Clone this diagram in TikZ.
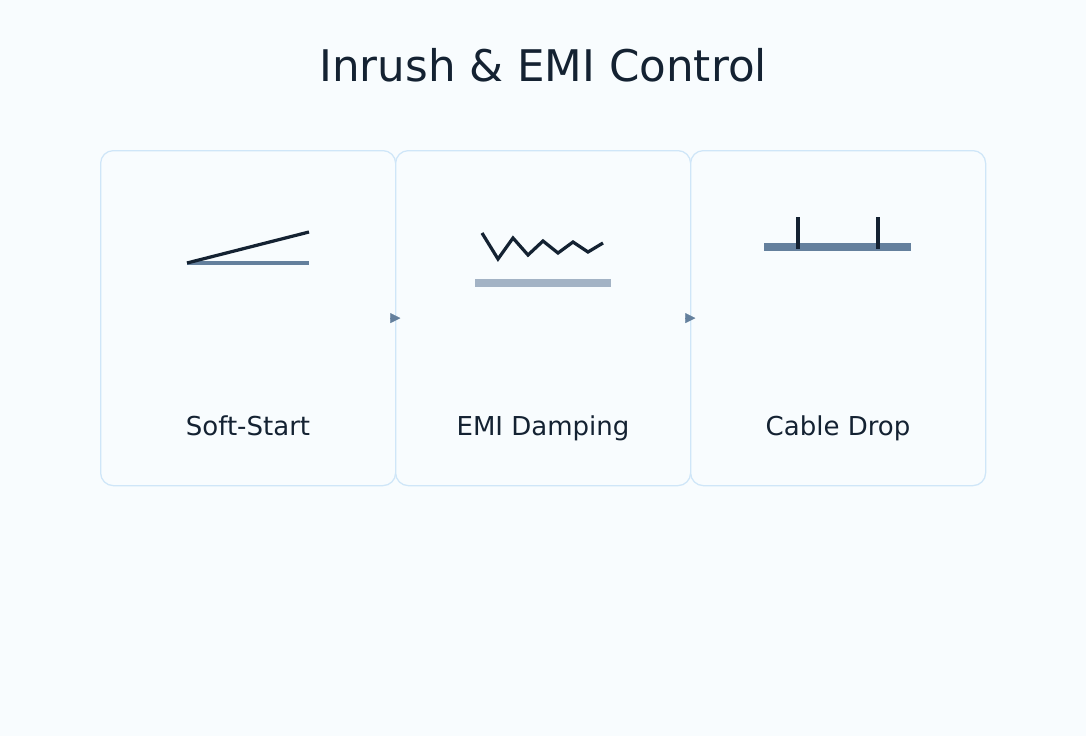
\documentclass[tikz,border=0pt]{standalone}
\usepackage{fontspec}
\setmainfont{DejaVu Sans}
\usetikzlibrary{arrows.meta}
\definecolor{bgc}{HTML}{F8FCFE}
\definecolor{edgec}{HTML}{CFE6F8}
\definecolor{ink}{HTML}{142232}
\definecolor{slate}{HTML}{64809D}
\definecolor{pale}{HTML}{A3B3C5}
\tikzset{
  card/.style={draw=edgec,line width=0.9pt,rounded corners=9pt,fill=bgc,minimum width=295*0.025cm,minimum height=335*0.025cm,anchor=north west},
  lbl/.style={text=ink,font=\fontsize{18.5}{22}\selectfont,anchor=base},
  flow/.style={draw=slate,line width=0.1pt,-{Triangle[length=7pt,width=7pt]}}
}
\begin{document}
\begin{tikzpicture}[x=0.025cm,y=-0.025cm]
\fill[bgc] (0,0) rectangle (1086,736);
\useasboundingbox (0,0) rectangle (1086,736);
\node[text=ink,font=\fontsize{31}{36}\selectfont,anchor=base] (title) at (543,81) {Inrush \& EMI Control};
\node[card] (soft) at (100,150) {};
\node[card] (emi) at (395,150) {};
\node[card] (cable) at (690,150) {};
\node[lbl] (softlbl) at (248,435) {Soft-Start};
\node[lbl] (emilbl) at (543,435) {EMI Damping};
\node[lbl] (cablelbl) at (838,435) {Cable Drop};
% soft-start ramp
\draw[slate,line width=2.3pt] (187,263) -- (309,263);
\draw[ink,line width=2.3pt] (187,263) -- (309,232);
% emi ripple
\draw[ink,line width=2.3pt] (482,233) -- (498,259) -- (513,238) -- (528,255) -- (543,241) -- (558,253) -- (573,242) -- (588,252) -- (603,243);
\draw[pale,line width=5pt] (475,283) -- (611,283);
% cable drop
\draw[slate,line width=5pt] (764,247) -- (911,247);
\draw[ink,line width=2.3pt] (798,217) -- (798,249);
\draw[ink,line width=2.3pt] (878,217) -- (878,249);
% flow
\draw[flow] ([xshift=-6*0.025cm]soft.east) -- ([xshift=4*0.025cm]soft.east);
\draw[flow] ([xshift=-6*0.025cm]emi.east) -- ([xshift=4*0.025cm]emi.east);
\end{tikzpicture}
\end{document}
